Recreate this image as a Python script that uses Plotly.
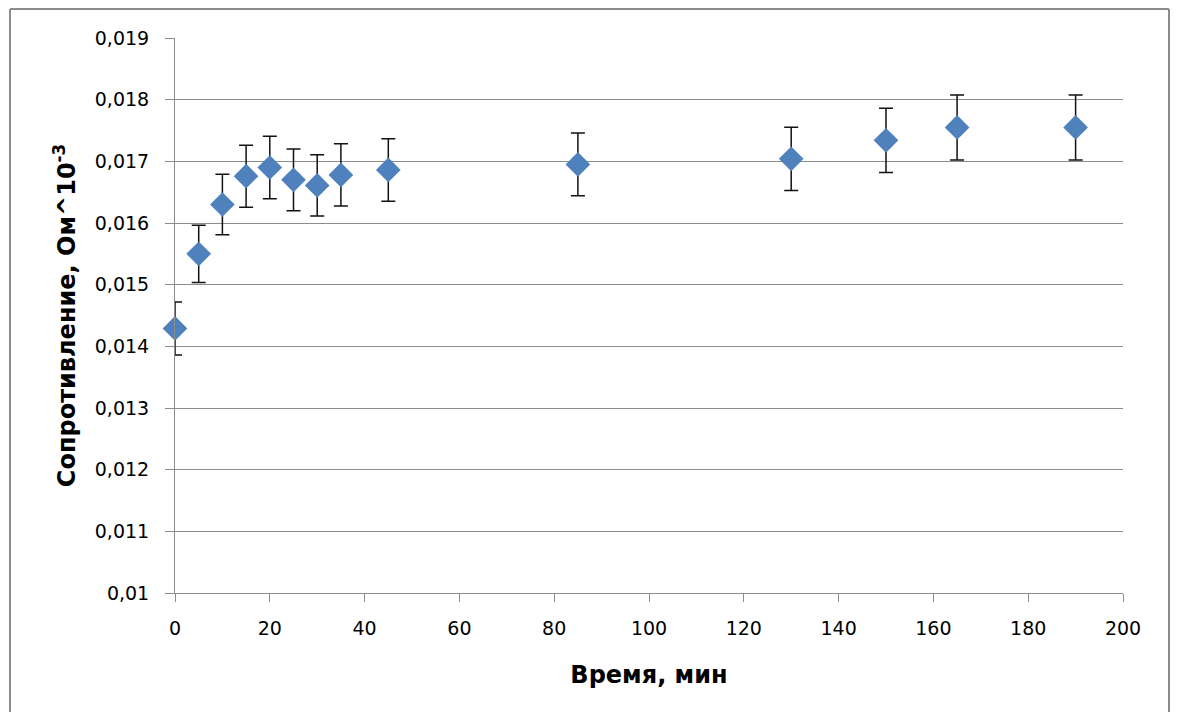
import plotly.graph_objects as go

time_min = [0, 5, 10, 15, 20, 25, 30, 35, 45, 85, 130, 150, 165, 190]
resistance = [0.01429, 0.01550, 0.01630, 0.01676, 0.01690, 0.01670, 0.01661, 0.01678,
              0.01686, 0.01695, 0.01704, 0.01734, 0.01755, 0.01755]
error_percent = 3

y_tickvals = [0.010, 0.011, 0.012, 0.013, 0.014, 0.015, 0.016, 0.017, 0.018, 0.019]
y_ticktext = ["0,01", "0,011", "0,012", "0,013", "0,014", "0,015", "0,016", "0,017", "0,018", "0,019"]
x_tickvals = [0, 20, 40, 60, 80, 100, 120, 140, 160, 180, 200]

fig = go.Figure()
fig.add_trace(go.Scatter(
    x=time_min, y=resistance, mode="markers", cliponaxis=False,
    marker=dict(symbol="diamond", size=19, color="#4F81BD"),
    error_y=dict(type="percent", value=error_percent, color="#111111", thickness=1.5, width=7),
    showlegend=False,
))

grid_col = "#8C8C8C"
PW, PH = 948, 555
bx0 = (10 - 175) / PW
bx1 = (1169 - 175) / PW
by1 = (593 - 9) / PH
by0 = (593 - 712) / PH
border = dict(color="#8C8C8C", width=2)
fig.update_layout(
    width=1170, height=708,
    paper_bgcolor="white", plot_bgcolor="white",
    margin=dict(l=167, r=55, t=30, b=123),
    font=dict(family="DejaVu Sans", size=19, color="black"),
    xaxis=dict(
        range=[0, 200], tickvals=x_tickvals, showgrid=False, zeroline=False,
        showline=True, linecolor=grid_col, linewidth=1,
        ticks="outside", ticklen=8, tickcolor=grid_col,
        tickfont=dict(size=19), ticklabelstandoff=10,
        title=dict(text="<b>Время, мин</b>", font=dict(size=24), standoff=28),
    ),
    yaxis=dict(
        range=[0.010, 0.019], tickvals=y_tickvals, ticktext=y_ticktext,
        showgrid=True, gridcolor=grid_col, gridwidth=1, zeroline=False,
        showline=True, linecolor=grid_col, linewidth=1,
        ticks="outside", ticklen=9, tickcolor=grid_col,
        tickfont=dict(size=19), ticklabelstandoff=12,
        title=dict(text="<b>Сопротивление, Ом^10<sup>-3</sup></b>", font=dict(size=24), standoff=12),
    ),
    shapes=[
        dict(type="line", xref="paper", yref="paper", x0=bx0, x1=bx1, y0=by1, y1=by1, line=border),
        dict(type="line", xref="paper", yref="paper", x0=bx0, x1=bx0, y0=by0, y1=by1, line=border),
        dict(type="line", xref="paper", yref="paper", x0=bx1, x1=bx1, y0=by0, y1=by1, line=border),
    ],
)

fig.write_html("out.html")
